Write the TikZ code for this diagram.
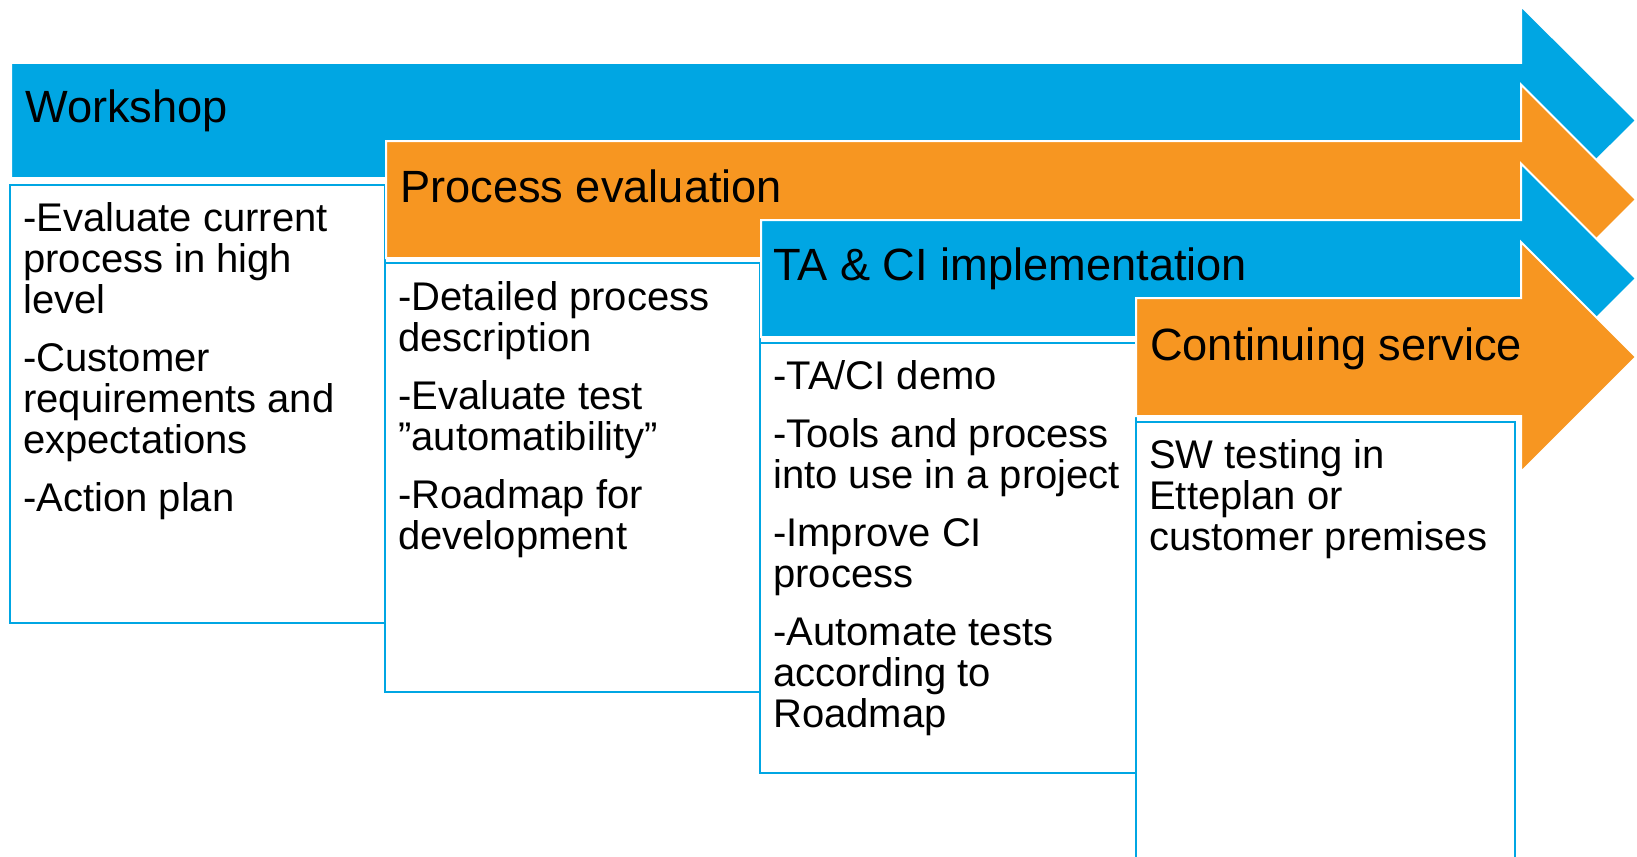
\documentclass[tikz,border=0pt]{standalone}
\usepackage{fontspec}
\setmainfont{Liberation Sans}
\usepackage{xcolor}
\usetikzlibrary{positioning}
\definecolor{stageblue}{RGB}{0,166,227}
\definecolor{stageorange}{RGB}{247,150,33}
\tikzset{
    stagearrow/.style={
        draw=white,
        line width=2pt,
        line join=miter
    },
    stagebox/.style={
        draw=stageblue,
        line width=2pt,
        fill=white
    },
    stagetitle/.style={
        anchor=base west,
        inner sep=0pt,
        font=\fontsize{45.2}{50}\selectfont
    },
    stagetext/.style={
        anchor=north west,
        inner sep=0pt,
        align=left,
        font=\fontsize{40}{41}\selectfont,
        execute at begin node={\rule{0pt}{40pt}}
    }
}
\begin{document}
\begin{tikzpicture}[x=1pt,y=-1pt]
\useasboundingbox (0,0) rectangle (1637,856);

% Workshop
\fill[stageblue, stagearrow] (11,63) -- (1521,63) -- (1521,6) -- (1636,120.5) -- (1521,235) -- (1521,178) -- (11,178) -- cycle;
\draw[stagebox] (10,185) rectangle (385,623);
\node[stagetitle] (workshop) at (25,123) {Workshop};
\node[stagetext] (workshoptext) at (23,202) {-Evaluate current\\process in high\\level\\[17pt]-Customer\\requirements and\\expectations\\[17pt]-Action plan};

% Process evaluation
\fill[stageorange, stagearrow] (386,141) -- (1521,141) -- (1521,84.5) -- (1636,199.5) -- (1521,314.5) -- (1521,258) -- (386,258) -- cycle;
\draw[stagebox] (385,263) rectangle (760,692);
\node[stagetitle] (evaluation) at (400,202) {Process evaluation};
\node[stagetext] (evaluationtext) at (398,281) {-Detailed process\\description\\[17pt]-Evaluate test\\”automatibility”\\[17pt]-Roadmap for\\development};

% TA & CI implementation
\fill[stageblue, stagearrow] (761,220) -- (1521,220) -- (1521,163.5) -- (1636,278.5) -- (1521,393.5) -- (1521,337) -- (761,337) -- cycle;
\draw[stagebox] (760,343) rectangle (1136,773);
\node[stagetitle] (implementation) at (773,280) {TA \& CI implementation};
\node[stagetext] (implementationtext) at (773,360) {-TA/CI demo\\[17pt]-Tools and process\\into use in a project\\[17pt]-Improve CI\\process\\[17pt]-Automate tests\\according to\\Roadmap};

% Continuing service
\fill[stageorange, stagearrow] (1136,298) -- (1521,298) -- (1521,242) -- (1636,357) -- (1521,472) -- (1521,416) -- (1136,416) -- cycle;
\fill[white] (1136,422) rectangle (1515,870);
\draw[stagebox] (1136,870) -- (1136,422) -- (1515,422) -- (1515,870);
\node[stagetitle] (service) at (1150,360) {Continuing service};
\node[stagetext] (servicetext) at (1149,439) {SW testing in\\Etteplan or\\customer premises};

\end{tikzpicture}
\end{document}
